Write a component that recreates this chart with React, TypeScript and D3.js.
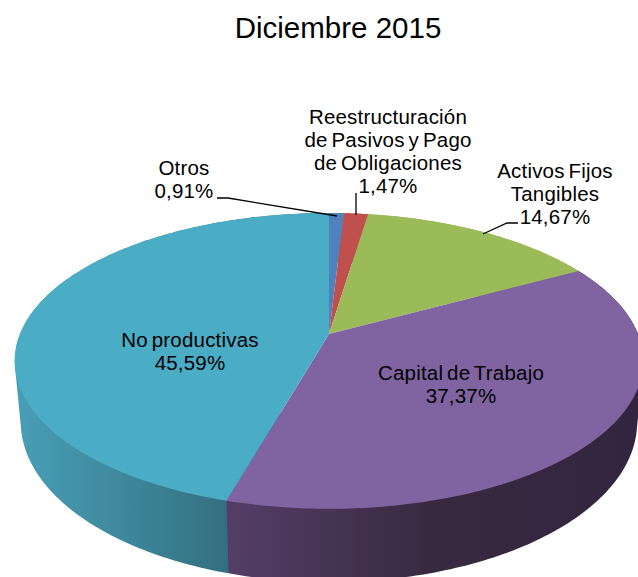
import React from 'react';
import * as d3 from 'd3';

const title = 'Diciembre 2015';
const categories = ['Otros', 'Reestructuración de Pasivos y Pago de Obligaciones', 'Activos Fijos Tangibles', 'Capital de Trabajo', 'No productivas'];
const shares = [0.91, 1.47, 14.67, 37.37, 45.59];
const colors = ['#4f81bd', '#c0504d', '#9bbb59', '#8064a2', '#4bacc6'];
const labelLines = [
  ['Otros', '0,91%'],
  ['Reestructuración', 'de Pasivos y Pago', 'de Obligaciones', '1,47%'],
  ['Activos Fijos', 'Tangibles', '14,67%'],
  ['Capital de Trabajo', '37,37%'],
  ['No productivas', '45,59%'],
];
// centre x and baseline of the first line for each label
const labelPos = [[184, 175], [388, 124], [555, 178], [461, 380], [190, 347]];

const width = 638;
const height = 577;
const cx = 329;
const persp = 0.182; // how much the back of the disc shrinks

// tilted disc seen in perspective: angle clockwise from the top -> screen point
function project(a: number, apexY: number, rx: number, ry: number): [number, number] {
  const w = 1 + persp * Math.cos(a);
  return [cx + (rx * Math.sin(a)) / w, apexY - (ry * Math.cos(a)) / w];
}
const rim = (a: number) => project(a, 334, 309, 143);
const lowRim = (a: number) => project(a, 393, 303, 154.7);

const slices = d3.pie<number>().sort(null).value((d) => d)(shares);

const line = d3.line();

function arcPoints(s: d3.PieArcDatum<number>, fn: (a: number) => [number, number]) {
  const steps = Math.max(4, Math.ceil((s.endAngle - s.startAngle) * 60));
  return d3.range(steps + 1).map((i) => fn(s.startAngle + ((s.endAngle - s.startAngle) * i) / steps));
}

// side wall of a slice: the hull of its upper and lower arcs
function sidePath(s: d3.PieArcDatum<number>) {
  const hull = d3.polygonHull([...arcPoints(s, rim), ...arcPoints(s, lowRim)]);
  return line(hull ?? []) + 'Z';
}

const leaders: [number, number][][] = [
  [[217, 198], [228, 198], [337, 216]],
  [[356, 193], [356, 215]],
  [[518, 223], [507, 223], [483, 234]],
];

const sideFill = ['#4f81bd', '#c0504d', '#9bbb59', 'url(#side-purple)', 'url(#side-teal)'];
const sideOrder = [0, 1, 2, 4, 3]; // purple goes over the teal one at the seam

export default function App() {
  return (
    <svg width={width} height={height} style={{ position: 'absolute', left: 0, top: 0, background: '#fff' }} fontFamily="'Liberation Sans', Arial, sans-serif">
      <defs>
        <linearGradient id="side-teal" gradientUnits="userSpaceOnUse" x1={14} x2={229} y1={0} y2={0}>
          <stop offset="0" stopColor="#489fb7" />
          <stop offset="0.5" stopColor="#3e889c" />
          <stop offset="1" stopColor="#326f80" />
        </linearGradient>
        <linearGradient id="side-purple" gradientUnits="userSpaceOnUse" x1={227} x2={638} y1={0} y2={0}>
          <stop offset="0" stopColor="#543e68" />
          <stop offset="0.5" stopColor="#38293f" />
          <stop offset="1" stopColor="#33253f" />
        </linearGradient>
      </defs>
      <text x={338} y={38} fontSize={29.5} textAnchor="middle" fill="#000">{title}</text>
      {sideOrder.map((i) => (
        <path key={categories[i]} d={sidePath(slices[i])} fill={sideFill[i]} />
      ))}
      {slices.map((s, i) => (
        <path key={i} d={line([[cx, 334], ...arcPoints(s, rim)]) + 'Z'} fill={colors[i]} />
      ))}
      {leaders.map((pts, i) => (
        <path key={i} d={line(pts) ?? ''} fill="none" stroke="#000" strokeWidth={1.3} />
      ))}
      {labelLines.map((lines, i) => (
        <text key={i} x={labelPos[i][0]} y={labelPos[i][1]} fontSize={20.5} textAnchor="middle" fill="#000" letterSpacing={0.2} wordSpacing={-2}>
          {lines.map((t, j) => (
            <tspan key={j} x={labelPos[i][0]} dy={j === 0 ? 0 : 23}>{t}</tspan>
          ))}
        </text>
      ))}
    </svg>
  );
}
